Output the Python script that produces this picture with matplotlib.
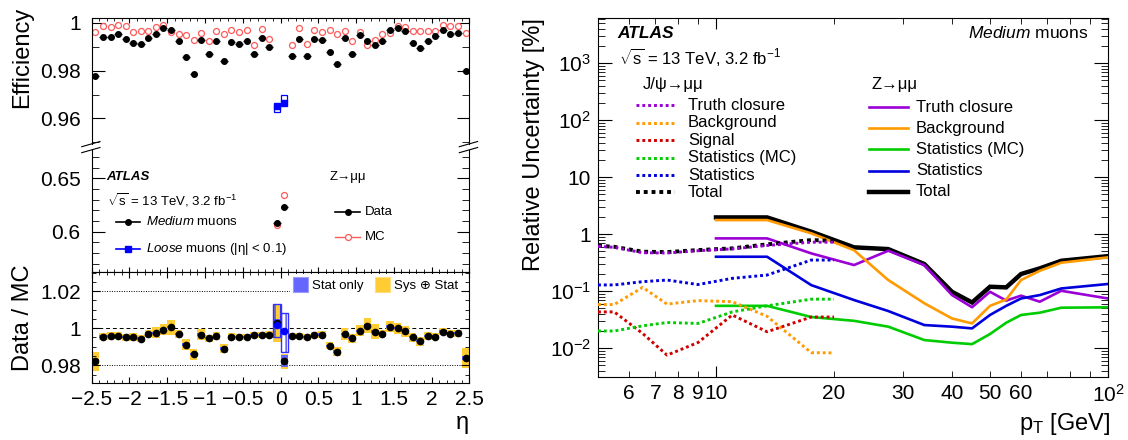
import matplotlib
matplotlib.use("Agg")
import matplotlib.pyplot as plt
from matplotlib.lines import Line2D
from matplotlib.patches import Patch
from matplotlib.ticker import (FixedLocator, FixedFormatter, FuncFormatter,
                               MultipleLocator, LogLocator, NullFormatter)
import numpy as np

plt.rcParams['font.family'] = ['Liberation Sans', 'DejaVu Sans']
plt.rcParams['mathtext.fontset'] = 'custom'
plt.rcParams['mathtext.rm'] = 'Liberation Sans'
plt.rcParams['mathtext.it'] = 'Liberation Sans:italic'
plt.rcParams['mathtext.bf'] = 'Liberation Sans:bold'
plt.rcParams['axes.linewidth'] = 0.8
plt.rcParams['hatch.linewidth'] = 0.9

# ---------------- left: efficiency vs eta (Z->mumu, Medium muons)
eta = [-2.45, -2.35, -2.25, -2.15, -2.05, -1.95, -1.85, -1.75, -1.65, -1.55,
       -1.45, -1.35, -1.25, -1.15, -1.05, -0.95, -0.85, -0.75, -0.65, -0.55,
       -0.45, -0.35, -0.25, -0.15, -0.05, 0.05, 0.15, 0.25, 0.35, 0.45,
       0.55, 0.65, 0.75, 0.85, 0.95, 1.05, 1.15, 1.25, 1.35, 1.45,
       1.55, 1.65, 1.75, 1.85, 1.95, 2.05, 2.15, 2.25, 2.35, 2.45]

eff_data = [0.9779, 0.9941, 0.9941, 0.9952, 0.9934, 0.9915, 0.9910, 0.9937, 0.9955, 0.9979,
            0.9972, 0.9923, 0.9859, 0.9786, 0.9927, 0.9870, 0.9924, 0.9842, 0.9920, 0.9913,
            0.9923, 0.9870, 0.9938, 0.9899, 0.6086, 0.6229, 0.9863, 0.9934, 0.9863, 0.9931,
            0.9927, 0.9876, 0.9828, 0.9937, 0.9868, 0.9951, 0.9924, 0.9906, 0.9924, 0.9969,
            0.9979, 0.9965, 0.9915, 0.9894, 0.9924, 0.9944, 0.9969, 0.9955, 0.9958, 0.9797]

eff_mc = [0.9962, 0.9986, 0.9983, 0.9990, 0.9987, 0.9962, 0.9966, 0.9965, 0.9983, 0.9989,
          0.9962, 0.9955, 0.9948, 0.9927, 0.9959, 0.9924, 0.9966, 0.9955, 0.9969, 0.9962,
          0.9972, 0.9908, 0.9976, 0.9934, 0.6065, 0.6343, 0.9908, 0.9979, 0.9913, 0.9969,
          0.9962, 0.9969, 0.9955, 0.9966, 0.9923, 0.9962, 0.9908, 0.9927, 0.9955, 0.9959,
          0.9986, 0.9983, 0.9966, 0.9965, 0.9965, 0.9965, 0.9990, 0.9987, 0.9986, 0.9959]

ratio = [0.9822, 0.9955, 0.9959, 0.9960, 0.9951, 0.9953, 0.9944, 0.9971, 0.9975, 0.9993,
         1.0005, 0.9969, 0.9912, 0.9859, 0.9966, 0.9946, 0.9957, 0.9890, 0.9955, 0.9953,
         0.9953, 0.9964, 0.9962, 0.9966, 1.0030, 0.9822, 0.9957, 0.9957, 0.9953, 0.9962,
         0.9966, 0.9906, 0.9874, 0.9969, 0.9946, 0.9987, 1.0014, 0.9982, 0.9971, 1.0009,
         1.0000, 0.9984, 0.9951, 0.9930, 0.9959, 0.9955, 0.9982, 0.9971, 0.9973, 0.9838]

ratio_sys = [0.0050, 0.0020, 0.0020, 0.0020, 0.0020, 0.0020, 0.0020, 0.0020, 0.0030, 0.0030,
             0.0040, 0.0020, 0.0030, 0.0030, 0.0030, 0.0020, 0.0020, 0.0025, 0.0017, 0.0017,
             0.0017, 0.0017, 0.0017, 0.0017, 0.0103, 0.0040, 0.0017, 0.0017, 0.0017, 0.0017,
             0.0017, 0.0020, 0.0025, 0.0030, 0.0025, 0.0030, 0.0040, 0.0040, 0.0020, 0.0030,
             0.0030, 0.0030, 0.0025, 0.0025, 0.0020, 0.0020, 0.0020, 0.0020, 0.0020, 0.0054]

ratio_stat = [0.0010, 0.0006, 0.0006, 0.0006, 0.0006, 0.0006, 0.0006, 0.0006, 0.0006, 0.0006,
              0.0006, 0.0006, 0.0006, 0.0006, 0.0006, 0.0006, 0.0006, 0.0006, 0.0006, 0.0006,
              0.0006, 0.0006, 0.0006, 0.0006, 0.0020, 0.0032, 0.0006, 0.0006, 0.0006, 0.0006,
              0.0006, 0.0006, 0.0006, 0.0006, 0.0006, 0.0006, 0.0006, 0.0006, 0.0006, 0.0006,
              0.0006, 0.0006, 0.0006, 0.0006, 0.0006, 0.0006, 0.0006, 0.0006, 0.0006, 0.0010]

loose_eta = [-0.05, 0.05]
loose_eff_data = [0.9651, 0.9666]
loose_eff_mc = [0.9640, 0.9684]
loose_ratio = [1.0018, 0.9984]
loose_stat_lo = [0.9951, 0.9870]
loose_stat_hi = [1.0132, 1.0081]

# ---------------- right: uncertainties vs pT
jpsi_pt = [5, 5.5, 6.5, 7.5, 9, 11, 13.5, 17.5, 20]
jpsi_truth = [0.61, 0.585, 0.47, 0.465, 0.51, 0.55, 0.63, 0.72, 0.72]
jpsi_bkg = [0.058, 0.058, 0.116, 0.059, 0.068, 0.065, 0.036, 0.0083, 0.0082]
jpsi_sig = [0.043, 0.043, 0.018, 0.0075, 0.0125, 0.038, 0.0193, 0.035, 0.035]
jpsi_stat_mc = [0.0199, 0.0199, 0.0245, 0.028, 0.027, 0.043, 0.055, 0.072, 0.072]
jpsi_stat = [0.128, 0.128, 0.146, 0.156, 0.130, 0.167, 0.191, 0.35, 0.35]
jpsi_total = [0.623, 0.598, 0.49, 0.483, 0.524, 0.561, 0.66, 0.785, 0.76]

z_pt = [10, 13.5, 17.5, 22.5, 27.5, 34, 40, 45, 50, 55, 60, 67, 76, 100]
z_truth = [0.84, 0.84, 0.458, 0.286, 0.51, 0.285, 0.085, 0.052, 0.097, 0.068, 0.083, 0.065, 0.101, 0.074]
z_bkg = [1.76, 1.76, 1.03, 0.52, 0.156, 0.061, 0.033, 0.027, 0.055, 0.071, 0.156, 0.227, 0.314, 0.39]
z_stat_mc = [0.055, 0.055, 0.035, 0.030, 0.0237, 0.0138, 0.0124, 0.0117, 0.0176, 0.0278, 0.038, 0.0417, 0.051, 0.0518]
z_stat = [0.40, 0.40, 0.127, 0.0695, 0.0446, 0.0253, 0.0237, 0.0221, 0.038, 0.055, 0.074, 0.085, 0.111, 0.133]
z_total = [1.96, 1.96, 1.10, 0.585, 0.545, 0.298, 0.097, 0.063, 0.119, 0.116, 0.199, 0.25, 0.34, 0.41]

uncert_labels = ['Truth closure', 'Background', 'Signal', 'Statistics (MC)', 'Statistics', 'Total']

PURPLE = '#9b00d6'
ORANGE = '#ff9a00'
RED = '#d00000'
GREEN = '#00cc00'
BLUE = '#0000dd'
YELLOW = '#ffcc33'
STATBLUE = '#6666ff'
MCRED = '#ff5a5a'

W, H = 1128, 440


def fx(px):
    return px / W


def fy(py):
    return 1 - py / H


def num_fmt(v, pos):
    v = round(v, 4) + 0.0
    return ('%g' % v).replace('-', '\u2212')


def key(fig, x0, x1, y, marker=None, **kw):
    """Draw a legend sample line (pixel coords) with an optional marker in the middle."""
    xs = [fx(x0), fx((x0 + x1) / 2), fx(x1)]
    ys = [fy(y)] * 3
    line = Line2D(xs, ys, transform=fig.transFigure, marker=marker,
                  markevery=[1], **kw)
    fig.add_artist(line)


fig = plt.figure(figsize=(11.28, 4.40), dpi=100)
ax_top = fig.add_axes([fx(91.7), fy(144.2), (469.3 - 91.7) / W, (144.2 - 18.3) / H])
ax_mid = fig.add_axes([fx(91.7), fy(272), (469.3 - 91.7) / W, (272 - 150) / H])
ax_rat = fig.add_axes([fx(91.7), fy(383.3), (469.3 - 91.7) / W, (383.3 - 272) / H])
ax_unc = fig.add_axes([fx(598), fy(377), (1108 - 598) / W, (377 - 18) / H])

# efficiency panels (broken y axis)
for ax in (ax_top, ax_mid):
    ax.plot(eta, eff_mc, 'o', mfc='white', mec=MCRED, ms=4.3, mew=0.9, zorder=2)
    ax.errorbar(eta, eff_data, xerr=0.05, fmt='o', color='black', ms=4.0,
                elinewidth=1.0, capsize=0, zorder=3)
    ax.plot(loose_eta, loose_eff_mc, 's', mfc='white', mec='blue', ms=4.0, mew=0.9, zorder=4)
    ax.plot(loose_eta, loose_eff_data, 's', color='blue', ms=4.0, zorder=4)
    ax.set_xlim(-2.5, 2.5)
    ax.xaxis.set_major_locator(MultipleLocator(0.5))
    ax.xaxis.set_minor_locator(MultipleLocator(0.1))
    ax.yaxis.set_minor_locator(MultipleLocator(0.01))
    ax.yaxis.set_major_formatter(FuncFormatter(num_fmt))
    ax.tick_params(axis='y', which='both', direction='in', left=True, right=True,
                   labelsize=15, pad=8)
    ax.tick_params(axis='y', which='major', length=9)
    ax.tick_params(axis='y', which='minor', length=5)
    ax.tick_params(axis='x', which='both', direction='in', labelbottom=False)
    ax.tick_params(axis='x', which='major', length=3.5)
    ax.tick_params(axis='x', which='minor', length=2)

ax_top.set_ylim(0.9492, 1.0019)
ax_top.yaxis.set_major_locator(FixedLocator([0.96, 0.98, 1.0]))
ax_top.spines['bottom'].set_visible(False)
ax_top.tick_params(axis='x', which='both', bottom=False, top=True)

ax_mid.set_ylim(0.5623, 0.6765)
ax_mid.yaxis.set_major_locator(FixedLocator([0.6, 0.65]))
ax_mid.spines['top'].set_visible(False)
ax_mid.tick_params(axis='x', which='both', bottom=True, top=False)

# break marks on the y axis
for xb in (91.7, 469.3):
    for y0 in (146.7, 152.7):
        fig.add_artist(Line2D([fx(xb - 10), fx(xb + 8.3)], [fy(y0), fy(y0 - 5.2)],
                              transform=fig.transFigure, color='black', lw=0.8))

# ratio panel
eta_a = np.array(eta)
ratio_a = np.array(ratio)
sys_a = np.array(ratio_sys)
stat_a = np.array(ratio_stat)
ax_rat.axhline(1.02, color='black', lw=0.7, ls=(0, (1, 1.5)), zorder=0)
ax_rat.axhline(0.98, color='black', lw=0.7, ls=(0, (1, 1.5)), zorder=0)
ax_rat.axhline(1.0, color='black', lw=0.7, ls=(0, (4, 3)), zorder=0)
ax_rat.bar(eta_a, 2 * sys_a, bottom=ratio_a - sys_a, width=0.1, color=YELLOW, lw=0, zorder=1)
ax_rat.bar(eta_a, 2 * stat_a, bottom=ratio_a - stat_a, width=0.1, color=STATBLUE, lw=0, zorder=2)
ax_rat.bar(loose_eta, np.array(loose_stat_hi) - np.array(loose_stat_lo), bottom=loose_stat_lo,
           width=0.1, fill=False, edgecolor='#3030ff', hatch='|||', lw=1.0, zorder=3)
ax_rat.plot(eta, ratio, 'o', color='black', ms=4.5, zorder=4)
ax_rat.plot(loose_eta, loose_ratio, 'o', color='blue', ms=4.5, zorder=5)
ax_rat.set_xlim(-2.5, 2.5)
ax_rat.set_ylim(0.9703, 1.0303)
ax_rat.xaxis.set_major_locator(MultipleLocator(0.5))
ax_rat.xaxis.set_minor_locator(MultipleLocator(0.1))
ax_rat.xaxis.set_major_formatter(FuncFormatter(num_fmt))
ax_rat.yaxis.set_major_locator(FixedLocator([0.98, 1.0, 1.02]))
ax_rat.yaxis.set_minor_locator(MultipleLocator(0.005))
ax_rat.yaxis.set_major_formatter(FuncFormatter(num_fmt))
ax_rat.tick_params(which='both', direction='in', top=True, right=True, labelsize=15)
ax_rat.tick_params(axis='y', which='major', length=6, pad=8)
ax_rat.tick_params(axis='y', which='minor', length=3)
ax_rat.tick_params(axis='x', which='major', length=4, pad=5)
ax_rat.tick_params(axis='x', which='minor', length=2.2)

handles = [Patch(facecolor=STATBLUE, edgecolor='#9a9aff', lw=0.8),
           Patch(facecolor=YELLOW, edgecolor='#ffdd80', lw=0.8)]
leg = ax_rat.legend(handles, ['Stat only', 'Sys \u2295 Stat'], loc='upper left',
                    bbox_to_anchor=(0.525, 0.985), ncol=2, frameon=True, fancybox=False,
                    edgecolor='none', facecolor='white', framealpha=1, fontsize=9.5,
                    handlelength=1.1, handleheight=1.4, handletextpad=0.3,
                    columnspacing=0.9, borderpad=0.25, borderaxespad=0.0)
leg.set_zorder(6)

# left panel texts
fig.text(fx(22), fy(7), 'Efficiency', rotation=90, ha='center', va='top', fontsize=17)
fig.text(fx(23), fy(318), 'Data / MC', rotation=90, ha='center', va='center', fontsize=17)
fig.text(fx(469), fy(423), '\u03b7', ha='right', va='center', fontsize=17)
fig.text(fx(106), fy(176.7), 'ATLAS', fontweight='bold', fontstyle='italic',
         fontsize=9.5, va='center')
fig.text(fx(107), fy(200), r'$\sqrt{\mathrm{s}}$ = 13 TeV, 3.2 fb$^{-1}$', fontsize=9.5, va='center')
fig.text(fx(330), fy(176.7), 'Z\u2192\u03bc\u03bc', fontsize=9.5, va='center')

key(fig, 116, 140, 221.7, marker='o', color='black', lw=1.2, ms=4.0)
fig.text(fx(146), fy(221.7), r'$\mathit{Medium}$ muons', fontsize=9.5, va='center')
key(fig, 116, 140, 249, marker='s', color='blue', lw=1.2, ms=4.0)
fig.text(fx(146), fy(249), r'$\mathit{Loose}$ muons' + ' (|\u03b7| < 0.1)', fontsize=9.5, va='center')
key(fig, 335, 360, 211.7, marker='o', color='black', lw=1.2, ms=4.0)
fig.text(fx(365), fy(211.7), 'Data', fontsize=9.5, va='center')
key(fig, 335, 360, 237.3, marker='o', color=MCRED, lw=1.0, ms=4.3, mfc='white', mew=0.9)
fig.text(fx(365), fy(237.3), 'MC', fontsize=9.5, va='center')

# right panel curves
jpsi_series = [jpsi_truth, jpsi_bkg, jpsi_sig, jpsi_stat_mc, jpsi_stat, jpsi_total]
jpsi_colors = [PURPLE, ORANGE, RED, GREEN, BLUE, 'black']
z_series = [z_truth, z_bkg, z_stat_mc, z_stat, z_total]
z_colors = [PURPLE, ORANGE, GREEN, BLUE, 'black']
z_labels = ['Truth closure', 'Background', 'Statistics (MC)', 'Statistics', 'Total']

ax_unc.plot(z_pt, z_total, color='black', lw=3.2, solid_joinstyle='miter', zorder=2)
for vals, col in zip(z_series[:-1], z_colors[:-1]):
    ax_unc.plot(z_pt, vals, color=col, lw=1.9, zorder=3)
ax_unc.plot(jpsi_pt, jpsi_total, color='black', lw=2.8, ls=(0, (1, 1)), zorder=3)
for vals, col in zip(jpsi_series[:-1], jpsi_colors[:-1]):
    ax_unc.plot(jpsi_pt, vals, color=col, lw=2.1, ls=(0, (1, 1)), zorder=4)

ax_unc.set_xscale('log')
ax_unc.set_yscale('log')
ax_unc.set_xlim(5, 100)
ax_unc.set_ylim(3.1e-3, 6.2e3)
ax_unc.xaxis.set_major_locator(FixedLocator([10, 100]))
ax_unc.xaxis.set_major_formatter(FixedFormatter(['10', r'$10^{2}$']))
ax_unc.xaxis.set_minor_locator(FixedLocator([6, 7, 8, 9, 20, 30, 40, 50, 60, 70, 80, 90]))
ax_unc.xaxis.set_minor_formatter(FixedFormatter(['6', '7', '8', '9', '20', '30', '40',
                                                 '50', '60', '', '', '']))
ax_unc.yaxis.set_major_locator(FixedLocator([1e-2, 1e-1, 1, 10, 100, 1000]))
ax_unc.yaxis.set_major_formatter(FixedFormatter([r'$10^{-2}$', r'$10^{-1}$', '1', '10',
                                                 r'$10^{2}$', r'$10^{3}$']))
ax_unc.yaxis.set_minor_locator(LogLocator(base=10, subs=np.arange(2, 10)))
ax_unc.yaxis.set_minor_formatter(NullFormatter())
ax_unc.tick_params(which='both', direction='in', top=True, right=True, labelsize=15)
ax_unc.tick_params(axis='y', which='major', length=10, pad=5)
ax_unc.tick_params(axis='y', which='minor', length=5)
ax_unc.tick_params(axis='x', which='major', length=8, pad=5)
ax_unc.tick_params(axis='x', which='minor', length=4, pad=5)

fig.text(fx(534), fy(18), 'Relative Uncertainty [%]', rotation=90, ha='center', va='top',
         fontsize=17)
fig.text(fx(1110), fy(424), r'p$_\mathrm{T}$ [GeV]', ha='right', va='center', fontsize=17)
fig.text(fx(617), fy(33), 'ATLAS', fontweight='bold', fontstyle='italic', fontsize=12.5,
         va='center')
fig.text(fx(619), fy(57), r'$\sqrt{\mathrm{s}}$ = 13 TeV, 3.2 fb$^{-1}$', fontsize=12, va='center')
fig.text(fx(1088), fy(33), r'$\mathit{Medium}$ muons', ha='right', fontsize=12.5, va='center')

fig.text(fx(643), fy(85), 'J/\u03c8\u2192\u03bc\u03bc', fontsize=12, va='center')
for i, (lab, col) in enumerate(zip(uncert_labels, jpsi_colors)):
    y = 105.5 + 17.4 * i
    lw = 2.8 if col == 'black' else 2.1
    key(fig, 636, 675, y, color=col, lw=lw, ls=(0, (1, 1)))
    fig.text(fx(688), fy(y), lab, fontsize=12, va='center')

fig.text(fx(871), fy(85), 'Z\u2192\u03bc\u03bc', fontsize=12, va='center')
for i, (lab, col) in enumerate(zip(z_labels, z_colors)):
    y = 107 + 21.2 * i
    lw = 3.2 if col == 'black' else 1.9
    key(fig, 869, 908, y, color=col, lw=lw)
    fig.text(fx(916), fy(y), lab, fontsize=12, va='center')

fig.savefig('out.png', dpi=100)
